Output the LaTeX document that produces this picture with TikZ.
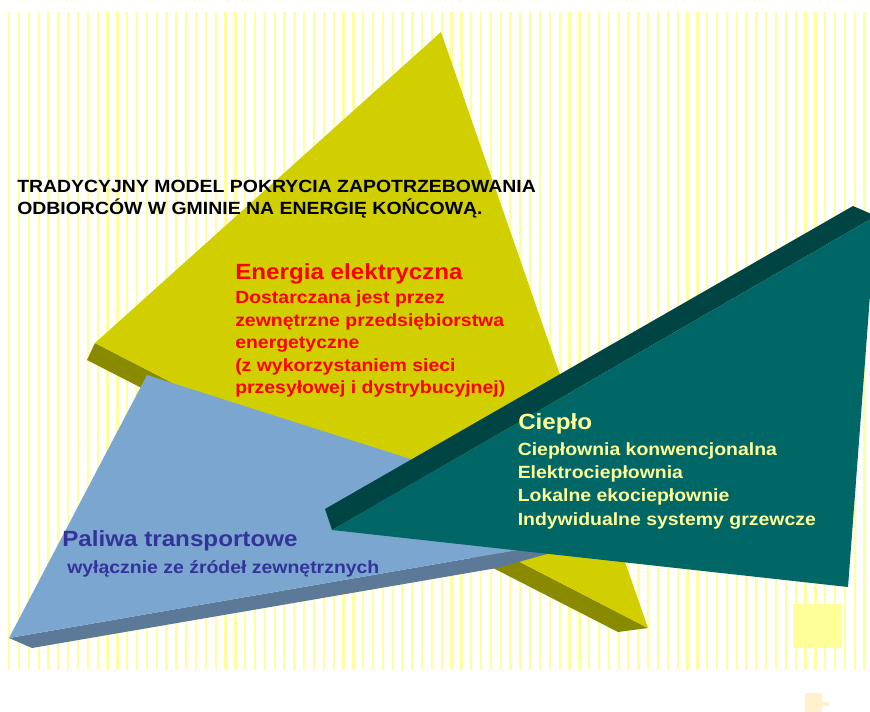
\documentclass[tikz,border=0pt]{standalone}
\usepackage{fontspec}
\newfontfamily\arialf[FakeStretch=1.1]{Liberation Sans}
\definecolor{yelTop}{RGB}{210,207,0}
\definecolor{yelSide}{RGB}{138,138,0}
\definecolor{bluTop}{RGB}{122,166,208}
\definecolor{bluSide}{RGB}{92,122,152}
\definecolor{tealTop}{RGB}{0,102,102}
\definecolor{tealSide}{RGB}{0,68,68}
\definecolor{paleYel}{RGB}{255,255,153}
\definecolor{stripeYel}{RGB}{255,255,160}
\definecolor{txtBlue}{RGB}{51,51,153}
\definecolor{tinyBox}{RGB}{255,240,204}
\tikzset{
  stripe/.style={draw=stripeYel, line width=1.75pt},
  txt/.style={anchor=base west, inner sep=0pt, font=\arialf\bfseries\fontsize{13.25pt}{15pt}\selectfont},
  head/.style={anchor=base west, inner sep=0pt, font=\arialf\bfseries\fontsize{16.5pt}{19pt}\selectfont},
}
\begin{document}
\begin{tikzpicture}[x=0.75pt,y=-0.75pt]
\useasboundingbox (0,0) rectangle (870,712);
\fill[white] (0,0) rectangle (870,712);
% stripes
\foreach \i in {0,...,87}{
  \draw[stripe] ({9.3+9.83*\i},12) -- ({9.3+9.83*\i},670);
}
% yellow triangle
\fill[yelSide] (95,343) -- (648,628) -- (618,632) -- (87,360) -- cycle;
\fill[yelTop] (441,32) -- (95,343) -- (648,628) -- cycle;
% blue triangle
\fill[bluSide] (9,638) -- (633,530) -- (497,568) -- (32,648) -- cycle;
\fill[bluTop] (147,375) -- (633,530) -- (9,638) -- cycle;
% teal triangle
\fill[tealSide] (325,509) -- (853,206) -- (876,216) -- (332,530) -- cycle;
\fill[tealTop] (332,530) -- (876,216) -- (848,587) -- cycle;
% squares
\fill[paleYel] (793,604) rectangle (842,648);
\fill[tinyBox] (805,693) rectangle (822,712);
\fill[tinyBox] (822,702) rectangle (829,706);
% title
\node[txt, text=black] (t1) at (17,192.7) {TRADYCYJNY MODEL POKRYCIA ZAPOTRZEBOWANIA};
\node[txt, text=black] (t2) at (17,215) {ODBIORCÓW W GMINIE NA ENERGIĘ KOŃCOWĄ.};
% energia
\node[head, text=red] (e0) at (235,280) {Energia elektryczna};
\node[txt, text=red] (e1) at (235,303.3) {Dostarczana jest przez};
\node[txt, text=red] (e2) at (235,326.7) {zewnętrzne przedsiębiorstwa};
\node[txt, text=red] (e3) at (235,348.8) {energetyczne};
\node[txt, text=red] (e4) at (235,371.7) {(z wykorzystaniem sieci};
\node[txt, text=red] (e5) at (235,393.5) {przesyłowej i dystrybucyjnej)};
% cieplo
\node[head, text=paleYel] (c0) at (518,430) {Ciepło};
\node[txt, text=paleYel] (c1) at (517.5,455) {Ciepłownia konwencjonalna};
\node[txt, text=paleYel] (c2) at (517.5,478.3) {Elektrociepłownia};
\node[txt, text=paleYel] (c3) at (517.5,501.7) {Lokalne ekociepłownie};
\node[txt, text=paleYel] (c4) at (517.5,525) {Indywidualne systemy grzewcze};
% paliwa
\node[head, text=txtBlue] (p0) at (62,546.7) {Paliwa transportowe};
\node[txt, text=txtBlue] (p1) at (67,573) {wyłącznie ze źródeł zewnętrznych};
\end{tikzpicture}
\end{document}
